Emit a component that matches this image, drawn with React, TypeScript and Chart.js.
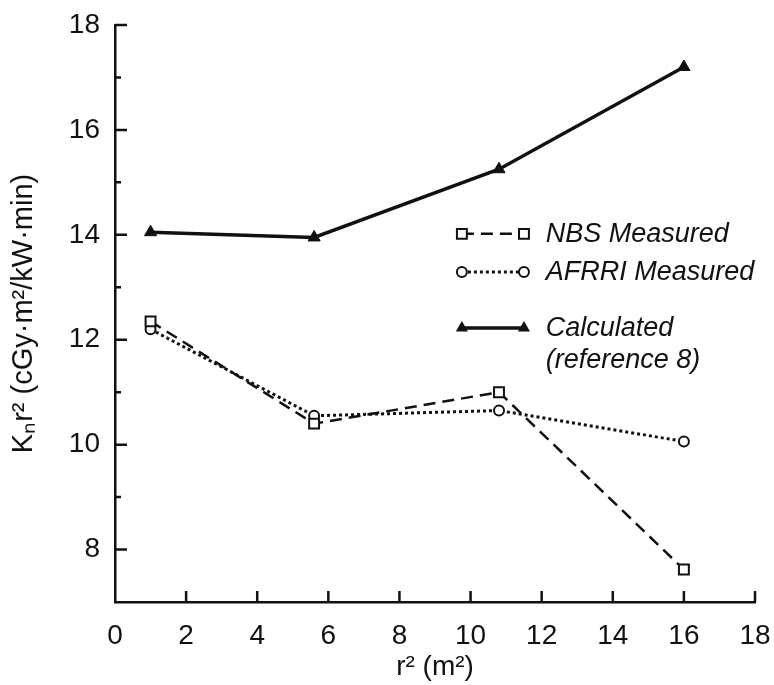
import React, { useEffect, useRef } from "react";
import { Chart, registerables } from "chart.js";

Chart.register(...registerables);

// ---- data ----
const xValues = [1, 5.6, 10.8, 16];
const nbsMeasured = [12.35, 10.4, 11.0, 7.62];
const afrriMeasured = [12.2, 10.55, 10.65, 10.06];
const calculated = [14.05, 13.95, 15.25, 17.2];

const xTickValues = [0, 2, 4, 6, 8, 10, 12, 14, 16, 18];
const yTickValues = [8, 10, 12, 14, 16, 18];
const yMinorTickValues = [9, 11, 13, 15, 17];

const seriesLabels = ["NBS Measured", "AFRRI Measured", "Calculated"];
const calculatedNote = "(reference 8)";
const xTitle = "r² (m²)";
const yTitle = "Kₙr² (cGy·m²/kW·min)";

const INK = "#111111";
const FONT = "'Liberation Sans', Arial, Helvetica, sans-serif";

function drawMarker(ctx: CanvasRenderingContext2D, style: string, x: number, y: number, r: number) {
  ctx.beginPath();
  if (style === "rect") {
    const s = r * Math.SQRT1_2;
    ctx.rect(x - s, y - s, 2 * s, 2 * s);
    ctx.fillStyle = "#ffffff";
    ctx.fill();
    ctx.stroke();
  } else if (style === "circle") {
    ctx.arc(x, y, r, 0, Math.PI * 2);
    ctx.fillStyle = "#ffffff";
    ctx.fill();
    ctx.stroke();
  } else {
    const h = r * 1.5;
    const half = r * Math.sqrt(3) / 2;
    ctx.moveTo(x, y - r);
    ctx.lineTo(x + half, y - r + h);
    ctx.lineTo(x - half, y - r + h);
    ctx.closePath();
    ctx.fillStyle = INK;
    ctx.fill();
  }
}

const ticksPlugin = {
  id: "inwardTicks",
  afterDraw(chart: any) {
    const { ctx, scales } = chart;
    const x = scales.x;
    const y = scales.y;
    ctx.save();
    ctx.strokeStyle = INK;
    ctx.lineWidth = 2.5;
    ctx.beginPath();
    xTickValues.forEach((v) => {
      if (v === 0) return;
      const px = x.getPixelForValue(v);
      ctx.moveTo(px, y.bottom);
      ctx.lineTo(px, y.bottom - 11);
    });
    yTickValues.forEach((v) => {
      const py = y.getPixelForValue(v);
      ctx.moveTo(x.left, py);
      ctx.lineTo(x.left + 12, py);
    });
    yMinorTickValues.forEach((v) => {
      const py = y.getPixelForValue(v);
      ctx.moveTo(x.left, py);
      ctx.lineTo(x.left + 6, py);
    });
    ctx.stroke();
    ctx.restore();
  },
};

const legendPlugin = {
  id: "insideLegend",
  afterDraw(chart: any) {
    const { ctx, chartArea } = chart;
    const w = chartArea.right - chartArea.left;
    const h = chartArea.bottom - chartArea.top;
    const sx1 = chartArea.left + w * 0.542;
    const sx2 = chartArea.left + w * 0.639;
    const tx = chartArea.left + w * 0.673;
    const rows = [
      chartArea.top + h * 0.362,
      chartArea.top + h * 0.428,
      chartArea.top + h * 0.525,
    ];
    ctx.save();
    chart.data.datasets.forEach((ds: any, i: number) => {
      const ry = rows[i];
      ctx.strokeStyle = ds.borderColor;
      ctx.lineWidth = ds.borderWidth;
      ctx.setLineDash(ds.borderDash || []);
      ctx.beginPath();
      ctx.moveTo(sx1, ry);
      ctx.lineTo(sx2, ry);
      ctx.stroke();
      ctx.setLineDash([]);
      ctx.lineWidth = ds.pointBorderWidth;
      drawMarker(ctx, ds.pointStyle, sx1, ry, ds.pointRadius);
      drawMarker(ctx, ds.pointStyle, sx2, ry, ds.pointRadius);
      ctx.fillStyle = INK;
      ctx.font = `italic 27px ${FONT}`;
      ctx.textBaseline = "middle";
      ctx.textAlign = "left";
      ctx.fillText(ds.label, tx, ry + 1);
      if (i === 2) ctx.fillText(calculatedNote, tx, ry + 33);
    });
    ctx.restore();
  },
};

export default function App() {
  const canvasRef = useRef<HTMLCanvasElement | null>(null);

  useEffect(() => {
    if (!canvasRef.current) return;
    const toPoints = (ys: number[]) => xValues.map((x, i) => ({ x, y: ys[i] }));
    const chart = new Chart(canvasRef.current, {
      type: "line",
      data: {
        datasets: [
          {
            label: seriesLabels[0],
            data: toPoints(nbsMeasured),
            borderColor: INK,
            borderWidth: 2.5,
            borderDash: [12, 7],
            pointStyle: "rect",
            pointRadius: 7,
            pointBorderWidth: 2,
            pointBackgroundColor: "#ffffff",
            pointBorderColor: INK,
            fill: false,
            tension: 0,
          },
          {
            label: seriesLabels[1],
            data: toPoints(afrriMeasured),
            borderColor: INK,
            borderWidth: 3,
            borderDash: [3, 3],
            pointStyle: "circle",
            pointRadius: 5,
            pointBorderWidth: 2,
            pointBackgroundColor: "#ffffff",
            pointBorderColor: INK,
            fill: false,
            tension: 0,
          },
          {
            label: seriesLabels[2],
            data: toPoints(calculated),
            borderColor: INK,
            borderWidth: 3.5,
            pointStyle: "triangle",
            pointRadius: 7,
            pointBorderWidth: 1,
            pointBackgroundColor: INK,
            pointBorderColor: INK,
            fill: false,
            tension: 0,
          },
        ] as any,
      },
      options: {
        animation: false,
        responsive: false,
        devicePixelRatio: 1,
        layout: { padding: { left: 0, top: 25, right: 19, bottom: 0 } },
        plugins: {
          legend: { display: false },
          tooltip: { enabled: false },
        },
        scales: {
          x: {
            type: "linear",
            min: 0,
            max: 18,
            grid: { display: false, drawTicks: false },
            border: { display: true, color: INK, width: 2.5 },
            afterBuildTicks: (s: any) => {
              s.ticks = xTickValues.map((v) => ({ value: v }));
            },
            afterFit: (s: any) => {
              s.height = 83;
              s.paddingLeft = 0;
              s.paddingRight = 0;
            },
            ticks: {
              color: INK,
              padding: 17,
              maxRotation: 0,
              autoSkip: false,
              font: { family: FONT, size: 28 },
            },
            title: {
              display: true,
              text: xTitle,
              color: INK,
              font: { family: FONT, size: 28 },
              padding: { top: 0, bottom: 1 },
            },
          },
          y: {
            type: "linear",
            min: 7,
            max: 18,
            grid: { display: false, drawTicks: false },
            border: { display: true, color: INK, width: 2.5 },
            afterBuildTicks: (s: any) => {
              s.ticks = yTickValues.map((v) => ({ value: v }));
            },
            afterFit: (s: any) => {
              s.width = 115;
              s.paddingTop = 0;
              s.paddingBottom = 0;
            },
            ticks: {
              color: INK,
              padding: 15,
              autoSkip: false,
              font: { family: FONT, size: 28 },
            },
            title: {
              display: true,
              text: yTitle,
              color: INK,
              font: { family: FONT, size: 29 },
              padding: { top: 7, bottom: 0 },
            },
          },
        },
      },
      plugins: [ticksPlugin, legendPlugin],
    });
    return () => chart.destroy();
  }, []);

  return (
    <div style={{ position: "fixed", left: 0, top: 0, width: 774, height: 685, background: "#ffffff" }}>
      <canvas ref={canvasRef} width={774} height={685} />
    </div>
  );
}
